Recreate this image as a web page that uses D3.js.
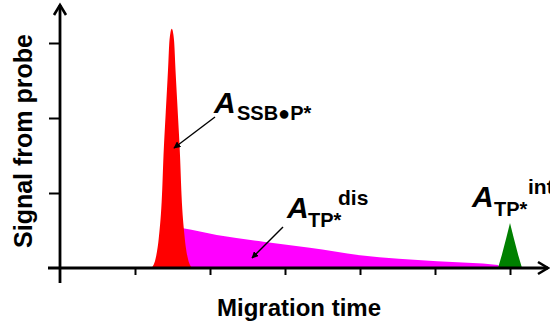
<!DOCTYPE html>
<html>
<head>
<meta charset="utf-8">
<script src="https://cdn.jsdelivr.net/npm/d3@7"></script>
<style>
	body { margin: 0; background: #fff; }
	svg { display: block; font-family: "Liberation Sans", Arial, sans-serif; }
</style>
</head>
<body>
<div class="stimulus"></div>
<script>
// peak profiles (x = migration time units, y = signal units)
var ssbX = [1.22, 1.28, 1.32, 1.36, 1.38, 1.41, 1.44, 1.46, 1.49, 1.52, 1.54, 1.57, 1.60, 1.62, 1.66, 1.70, 1.76];
var ssbY = [0, 0.15, 0.43, 0.98, 1.50, 2.08, 2.64, 3.04, 3.19, 3.04, 2.64, 2.08, 1.50, 0.98, 0.43, 0.15, 0];

var disX = [1.49, 1.49, 1.64, 2.09, 2.71, 3.33, 4.00, 5.03, 5.84, 5.86];
var disY = [0, 0.55, 0.53, 0.44, 0.35, 0.27, 0.17, 0.09, 0.04, 0];

var intX = [5.84, 5.89, 5.95, 6.00, 6.05, 6.11, 6.16];
var intY = [0, 0.17, 0.40, 0.60, 0.40, 0.17, 0];

var xTicks = [1, 2, 3, 4, 5, 6];
var yTicks = [1, 2, 3];

var W = 550, H = 324;

function makeStage(w, h) {
	var stage = d3.select(".stimulus")
				  .append("svg")
				  .attr("width", w)
				  .attr("height", h);
	return stage;
}

var svg = makeStage(W, H);

var x = d3.scaleLinear().domain([0, 6]).range([60, 510]);
var y = d3.scaleLinear().domain([0, 3]).range([268, 43]);

function toPoints(xs, ys) {
	return xs.map(function(d, i) { return [d, ys[i]]; });
}

var area = d3.area()
			 .x(function(d) { return x(d[0]); })
			 .y0(y(0))
			 .y1(function(d) { return y(d[1]); });

// tailing "dis" area sits behind the red peak
svg.append("path")
   .datum(toPoints(disX, disY))
   .attr("d", area.curve(d3.curveMonotoneX))
   .style("fill", "#ff00ff");

svg.append("path")
   .datum(toPoints(ssbX, ssbY))
   .attr("d", area.curve(d3.curveMonotoneX))
   .style("fill", "#ff0000");

svg.append("path")
   .datum(toPoints(intX, intY))
   .attr("d", area.curve(d3.curveLinear))
   .style("fill", "#008000");

// axes
var xAxis = d3.axisBottom(x).tickValues(xTicks).tickSize(7).tickFormat("");
var yAxis = d3.axisLeft(y).tickValues(yTicks).tickSize(11).tickFormat("");

var gx = svg.append("g").attr("transform", "translate(0," + y(0) + ")").call(xAxis);
var gy = svg.append("g").attr("transform", "translate(" + x(0) + ",0)").call(yAxis);
gx.select(".domain").remove();
gy.select(".domain").remove();
svg.selectAll(".tick line").style("stroke", "#000").style("stroke-width", 2);

svg.append("line")
   .attr("x1", 48).attr("y1", y(0)).attr("x2", 548).attr("y2", y(0))
   .style("stroke", "#000").style("stroke-width", 2.8);
svg.append("line")
   .attr("x1", x(0)).attr("y1", 283).attr("x2", x(0)).attr("y2", 5)
   .style("stroke", "#000").style("stroke-width", 2.8);

// open arrow heads on the axes
svg.append("path")
   .attr("d", "M54,15 L60,5 L66,15")
   .style("fill", "none").style("stroke", "#000").style("stroke-width", 2.6);
svg.append("path")
   .attr("d", "M538," + (y(0) - 6) + " L548," + y(0) + " L538," + (y(0) + 6))
   .style("fill", "none").style("stroke", "#000").style("stroke-width", 2.6);

// axis titles
svg.append("text")
   .attr("x", 299).attr("y", 316)
   .attr("text-anchor", "middle")
   .style("font-size", "24px").style("font-weight", "bold")
   .text("Migration time");

svg.append("text")
   .attr("transform", "translate(32,141) rotate(-90)")
   .attr("text-anchor", "middle")
   .style("font-size", "25px").style("font-weight", "bold")
   .text("Signal from probe");

// annotation arrows
svg.append("defs").append("marker")
   .attr("id", "head")
   .attr("viewBox", "0 0 10 10")
   .attr("refX", 9).attr("refY", 5)
   .attr("markerWidth", 7).attr("markerHeight", 7)
   .attr("markerUnits", "userSpaceOnUse")
   .attr("orient", "auto")
   .append("path")
   .attr("d", "M0,0 L10,5 L0,10 z")
   .style("fill", "#000");

function makeArrow(x1, y1, x2, y2) {
	svg.append("line")
	   .attr("x1", x1).attr("y1", y1).attr("x2", x2).attr("y2", y2)
	   .style("stroke", "#000").style("stroke-width", 1.4)
	   .attr("marker-end", "url(#head)");
}

makeArrow(215, 117, 174, 148);
makeArrow(283, 227, 252, 258);

// peak labels: big italic A with subscript / superscript
function makeLabel(ax, ay, sub, sup) {
	svg.append("text")
	   .attr("x", ax).attr("y", ay)
	   .style("font-size", "30px").style("font-weight", "bold").style("font-style", "italic")
	   .text("A");
	svg.append("text")
	   .attr("x", sub.x).attr("y", sub.y)
	   .style("font-size", "20px").style("font-weight", "bold")
	   .text(sub.text);
	if (sup) {
		svg.append("text")
		   .attr("x", sup.x).attr("y", sup.y)
		   .style("font-size", "21px").style("font-weight", "bold")
		   .text(sup.text);
	}
}

makeLabel(214, 113, {x: 237, y: 120, text: "SSB\u25CFP*"});
makeLabel(287, 218, {x: 308, y: 227, text: "TP*"}, {x: 338, y: 205, text: "dis"});
makeLabel(472, 207, {x: 494, y: 216, text: "TP*"}, {x: 528, y: 194, text: "int"});
</script>
</body>
</html>
